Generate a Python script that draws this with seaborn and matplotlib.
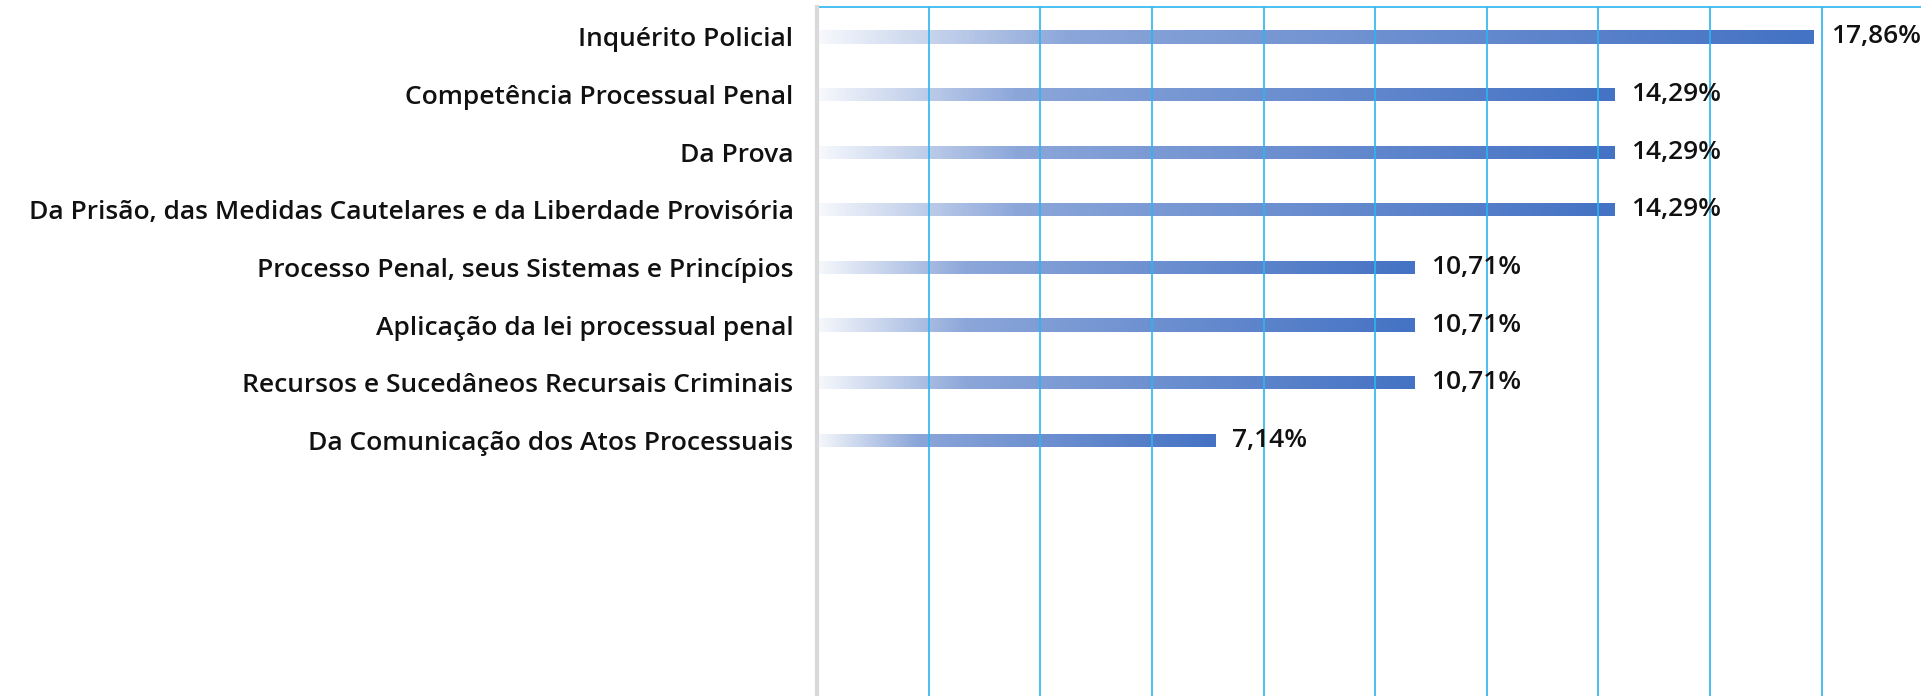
import numpy as np
import pandas as pd
import matplotlib
matplotlib.use("Agg")
import matplotlib.pyplot as plt
from matplotlib.colors import LinearSegmentedColormap
import seaborn as sns

# data
categories = [
    "Inquérito Policial",
    "Competência Processual Penal",
    "Da Prova",
    "Da Prisão, das Medidas Cautelares e da Liberdade Provisória",
    "Processo Penal, seus Sistemas e Princípios",
    "Aplicação da lei processual penal",
    "Recursos e Sucedâneos Recursais Criminais",
    "Da Comunicação dos Atos Processuais",
]
percent = [17.86, 14.29, 14.29, 14.29, 10.71, 10.71, 10.71, 7.14]

df = pd.DataFrame({"tema": categories, "pct": percent})

sns.set_style("white")
plt.rcParams["font.family"] = ["Open Sans", "DejaVu Sans"]

bar_color = "#4472C4"
grid_color = "#2bb5f0"
fs = 19

fig = plt.figure(figsize=(19.21, 6.96), dpi=100)
ax = fig.add_axes([817 / 1921, 0, 1 - 817 / 1921, 1 - 7 / 696])

sns.barplot(data=df, x="pct", y="tema", orient="h", width=0.23,
            color=bar_color, ax=ax)

# gradient fill: fades from almost white on the left to full colour
cmap = LinearSegmentedColormap.from_list(
    "fade", [(0.0, "#f6f8fc"), (0.25, "#8ba6d9"), (1.0, bar_color)])
grad = np.linspace(0, 1, 256).reshape(1, -1)
for patch in ax.patches:
    x0, y0 = patch.get_x(), patch.get_y()
    w, h = patch.get_width(), patch.get_height()
    im = ax.imshow(grad, cmap=cmap, aspect="auto", extent=(x0, x0 + w, y0 + h, y0),
                   zorder=1, interpolation="bilinear")
    im.set_clip_path(patch)
    patch.set_facecolor("none")
    patch.set_edgecolor("none")
ax.set_ylim(11.44, -0.52)
ax.set_xlim(0, 19.78)

# value labels
for i, v in enumerate(percent):
    ax.text(v + 0.3, i, f"{v:.2f}%".replace(".", ","), va="center", ha="left",
            fontsize=fs, fontweight="semibold", color="#111111")

ax.set_xticks(np.arange(2, 19, 2))
ax.xaxis.grid(True, color=grid_color, linewidth=1.2)
ax.set_axisbelow(False)
for line in ax.get_xgridlines():
    line.set_zorder(3)
ax.tick_params(axis="x", length=0, labelbottom=False)
ax.tick_params(axis="y", length=0, pad=17, labelsize=fs, labelcolor="#111111")
for lbl in ax.get_yticklabels():
    lbl.set_fontweight("semibold")
ax.set_xlabel("")
ax.set_ylabel("")

ax.spines["right"].set_visible(False)
ax.spines["bottom"].set_visible(False)
ax.spines["top"].set_color(grid_color)
ax.spines["top"].set_linewidth(1.2)
ax.spines["left"].set_color("#d9d9d9")
ax.spines["left"].set_linewidth(3)
ax.spines["left"].set_zorder(4)

fig.savefig("out.png", dpi=100)
